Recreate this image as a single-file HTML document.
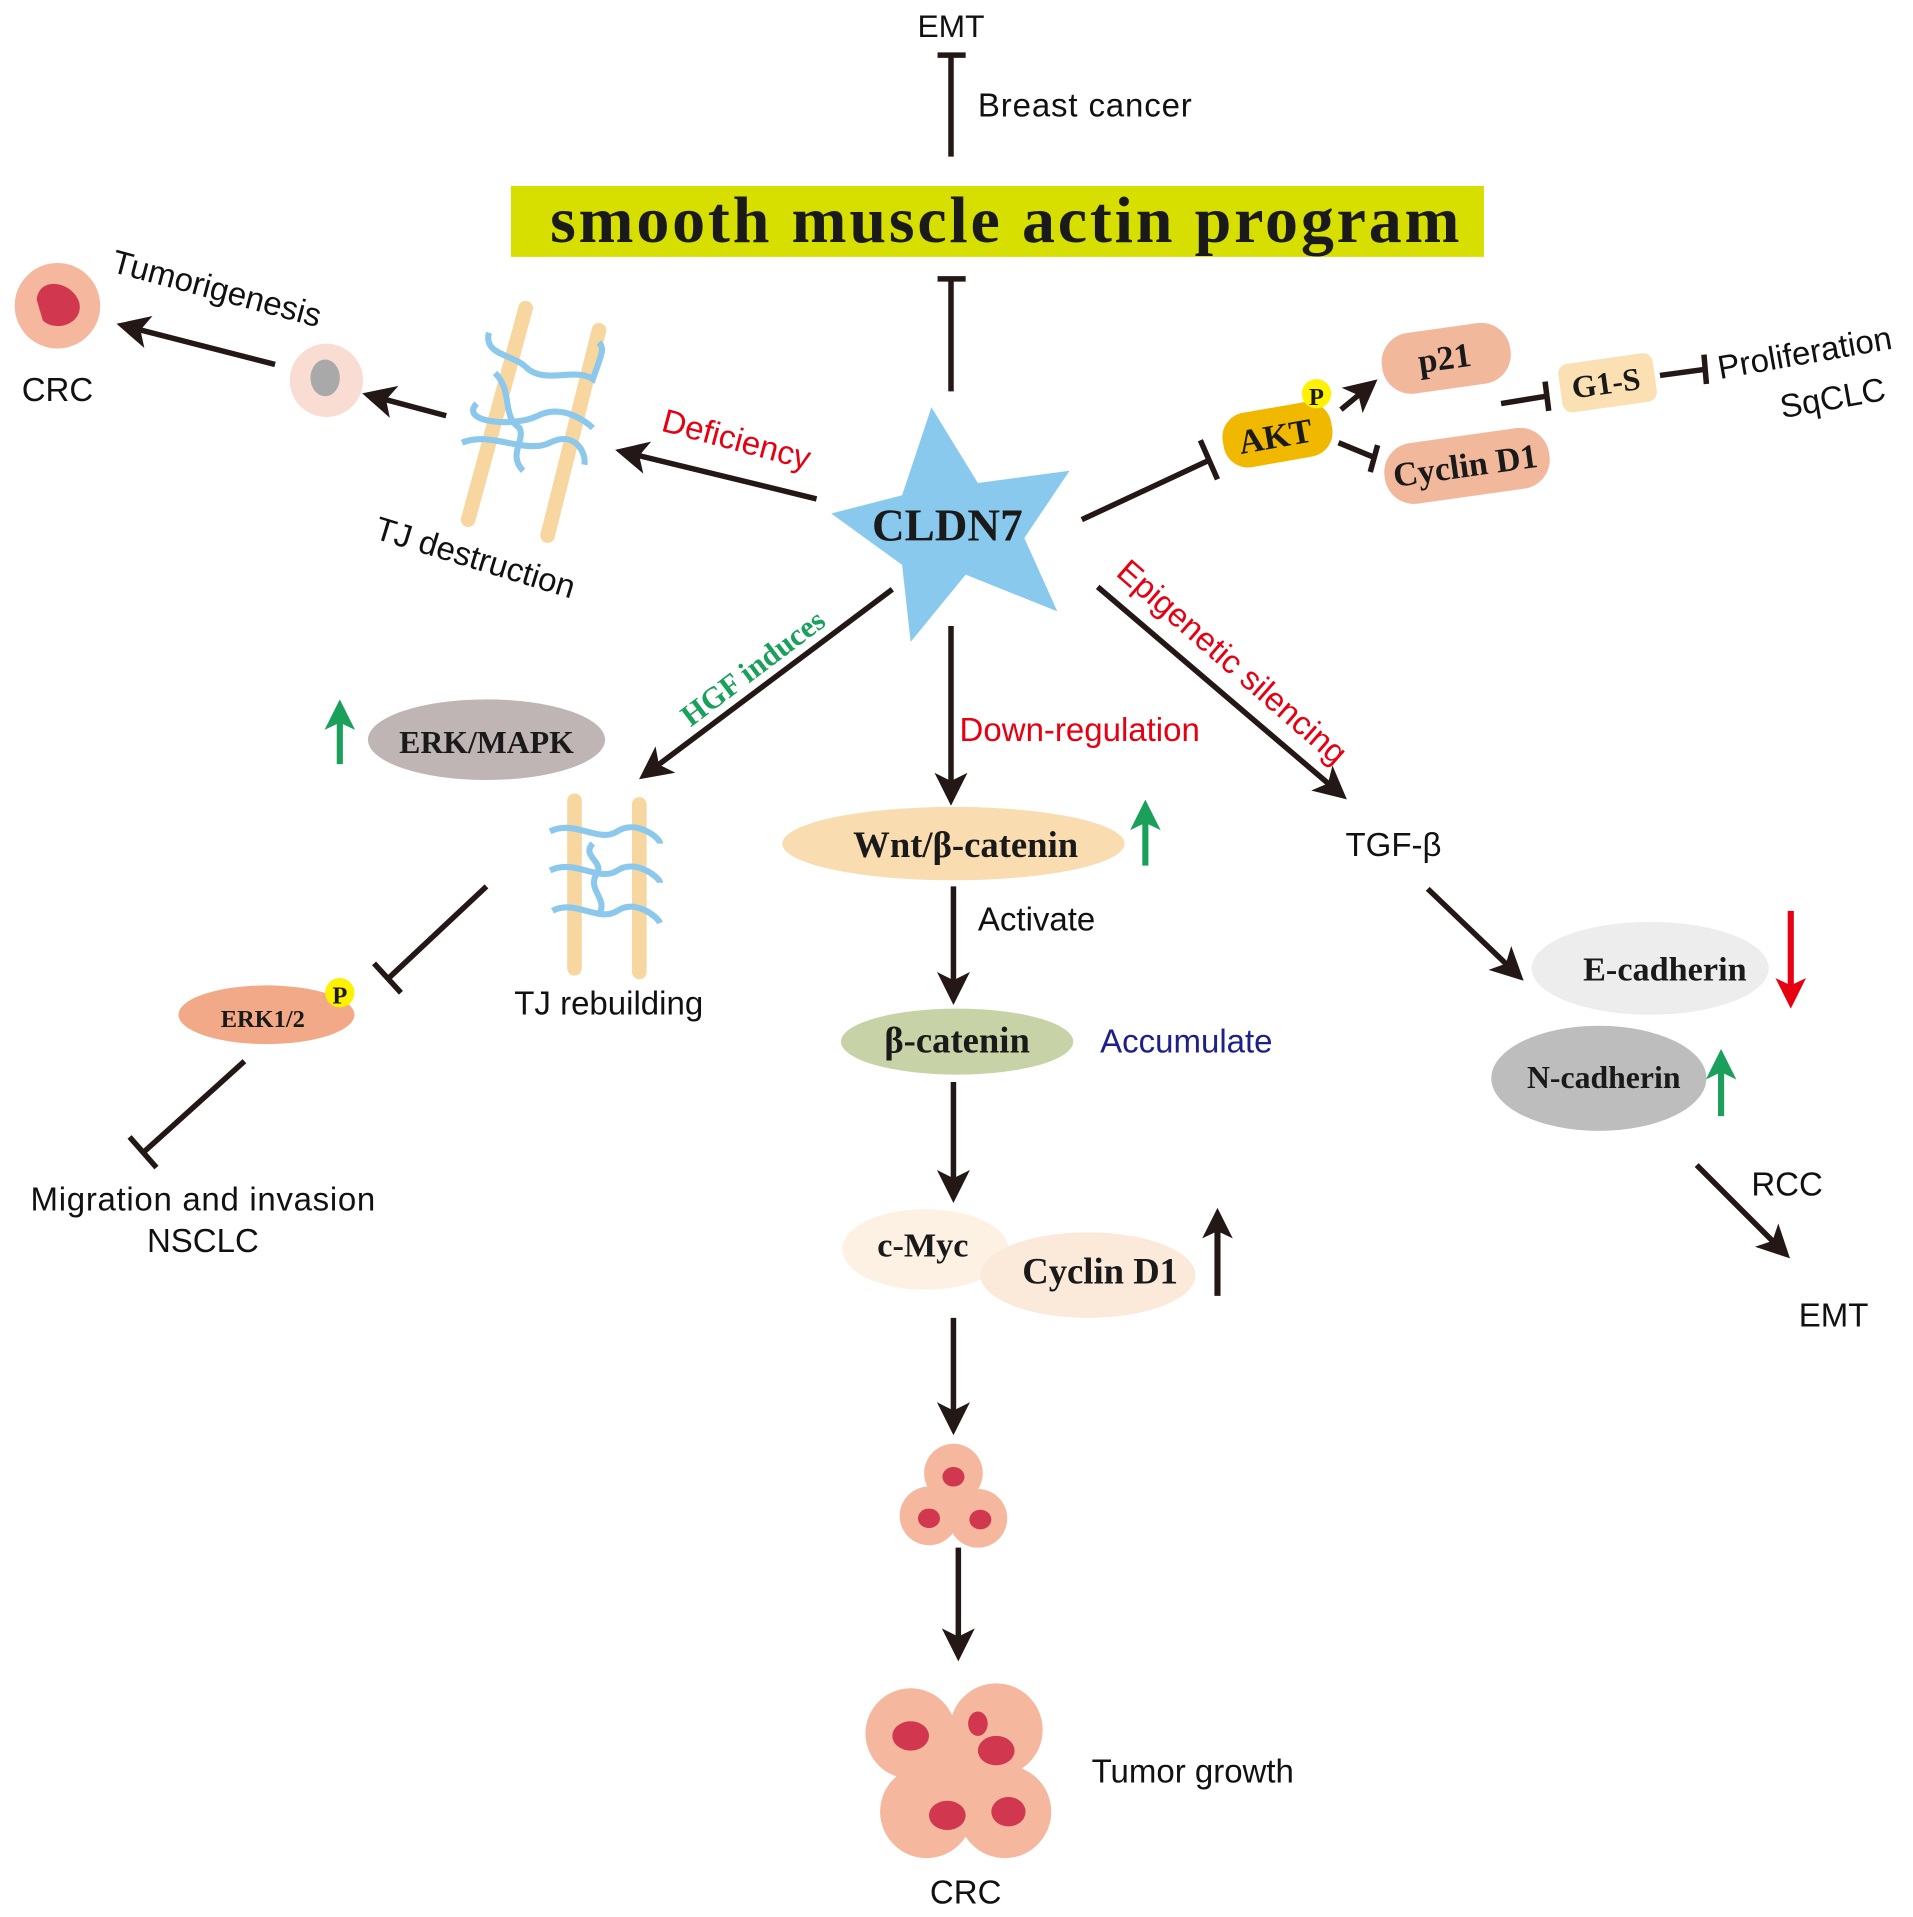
<!DOCTYPE html>
<html><head><meta charset="utf-8"><style>
html,body{margin:0;padding:0;background:#fff}
svg{display:block}
.s{font-family:"Liberation Sans",sans-serif;fill:#111}
.b{font-family:"Liberation Serif",serif;font-weight:bold;fill:#1a1a1a}
</style></head><body>
<svg width="1913" height="1917" viewBox="0 0 1565 1568" xmlns="http://www.w3.org/2000/svg">
<defs>
<marker id="a" markerWidth="6" markerHeight="6" refX="4" refY="3" orient="auto" markerUnits="strokeWidth">
<path d="M0,0 L6,3 L0,6 L1.5,3 z" fill="#231815"/></marker>
<marker id="g" markerWidth="5" markerHeight="5" refX="3" refY="2.5" orient="auto" markerUnits="strokeWidth">
<path d="M0,0 L5,2.5 L0,5 L1.2,2.5 z" fill="#1aa05a"/></marker>
<marker id="r" markerWidth="5" markerHeight="5" refX="3" refY="2.5" orient="auto" markerUnits="strokeWidth">
<path d="M0,0 L5,2.5 L0,5 L1.2,2.5 z" fill="#e60012"/></marker>
<marker id="k" markerWidth="5" markerHeight="5" refX="3" refY="2.5" orient="auto" markerUnits="strokeWidth">
<path d="M0,0 L5,2.5 L0,5 L1.2,2.5 z" fill="#231815"/></marker>
</defs>
<g stroke="#231815" stroke-width="4.5" fill="none">
<line x1="778" y1="128" x2="778" y2="45"/><line x1="767" y1="45" x2="790" y2="45"/>
<line x1="778" y1="320" x2="778" y2="228"/><line x1="767" y1="228" x2="790" y2="228"/>
<line x1="668" y1="408" x2="512" y2="370" marker-end="url(#a)"/>
<line x1="365" y1="340" x2="305" y2="324" marker-end="url(#a)"/>
<line x1="225" y1="298" x2="104" y2="267" marker-end="url(#a)"/>
<line x1="730" y1="482" x2="530" y2="632" marker-end="url(#a)"/>
<line x1="778" y1="512" x2="778" y2="650" marker-end="url(#a)"/>
<line x1="780" y1="725" x2="780" y2="813" marker-end="url(#a)"/>
<line x1="780" y1="885" x2="780" y2="975" marker-end="url(#a)"/>
<line x1="780" y1="1078" x2="780" y2="1165" marker-end="url(#a)"/>
<line x1="784" y1="1266" x2="784" y2="1350" marker-end="url(#a)"/>
<line x1="898" y1="480" x2="1095" y2="648" marker-end="url(#a)"/>
<line x1="1168" y1="727" x2="1240" y2="796" marker-end="url(#a)"/>
<line x1="1388" y1="953" x2="1458" y2="1023" marker-end="url(#a)"/>
<line x1="1097" y1="335" x2="1120" y2="316" marker-end="url(#a)"/>
<line x1="885" y1="425" x2="990" y2="376"/><line x1="982" y1="360" x2="996" y2="392"/>
<line x1="1095" y1="362" x2="1124" y2="374"/><line x1="1127" y1="364" x2="1121" y2="386"/>
<line x1="1228" y1="330" x2="1265" y2="324"/><line x1="1264" y1="312" x2="1267" y2="336"/>
<line x1="1358" y1="307" x2="1395" y2="302"/><line x1="1394" y1="290" x2="1396" y2="314"/>
<line x1="398" y1="725" x2="318" y2="800"/><line x1="306" y1="788" x2="328" y2="812"/>
<line x1="200" y1="868" x2="118" y2="942"/><line x1="106" y1="930" x2="128" y2="955"/>
</g>
<line x1="278" y1="625" x2="278" y2="582" stroke="#1aa05a" stroke-width="5" marker-end="url(#g)"/>
<line x1="937" y1="708" x2="937" y2="664" stroke="#1aa05a" stroke-width="5" marker-end="url(#g)"/>
<line x1="1408" y1="913" x2="1408" y2="868" stroke="#1aa05a" stroke-width="5" marker-end="url(#g)"/>
<line x1="1465" y1="745" x2="1465" y2="815" stroke="#e60012" stroke-width="5" marker-end="url(#r)"/>
<line x1="996" y1="1060" x2="996" y2="998" stroke="#231815" stroke-width="5" marker-end="url(#k)"/>

<text x="778" y="30" class="s" font-size="26" text-anchor="middle">EMT</text>
<text x="800" y="95" class="s" font-size="27" textLength="175">Breast cancer</text>
<rect x="418" y="152" width="796" height="58" fill="#d7df01"/>
<text x="450" y="198" class="b" font-size="54" textLength="744" lengthAdjust="spacing" fill="#1a1208">smooth muscle actin program</text>

<polygon points="762,333 800,395 875,385 838,440 865,500 790,470 745,525 738,462 680,420 738,405" fill="#89c9ee"/>
<text x="775" y="442" class="b" font-size="37" text-anchor="middle">CLDN7</text>

<text transform="translate(540,352) rotate(15)" class="s" font-size="27" style="fill:#e60012">Deficiency</text>
<g stroke="#f8d6a0" stroke-width="12" stroke-linecap="round"><line x1="430" y1="252" x2="383" y2="425"/><line x1="490" y1="270" x2="448" y2="438"/></g>
<g stroke="#8cc8ec" stroke-width="5" fill="none">
<path d="M400,272 C395,290 420,290 430,300 C445,315 470,300 485,310 C492,290 495,285 490,280"/>
<path d="M390,330 C375,345 420,350 440,340 C460,330 480,345 485,350"/>
<path d="M378,362 C400,352 430,372 450,362 C470,352 480,370 478,380"/>
<path d="M405,305 C420,320 410,340 425,350 C430,360 415,372 428,385"/>
</g>
<text transform="translate(305,440) rotate(17)" class="s" font-size="27">TJ destruction</text>
<circle cx="267" cy="311" r="30" fill="#f9dcd2"/>
<ellipse cx="266" cy="309" rx="12" ry="15" fill="#a9a9a9"/>
<text transform="translate(90,222) rotate(15)" class="s" font-size="27">Tumorigenesis</text>
<circle cx="47" cy="250" r="35" fill="#f5b89e"/>
<path d="M30,245 C32,225 60,230 65,248 C68,265 45,272 35,262 Z" fill="#d1374e"/>
<text x="47" y="328" class="s" font-size="27" text-anchor="middle">CRC</text>

<g transform="rotate(-10 1045 355)"><rect x="1000" y="333" width="90" height="45" rx="20" fill="#f1b800"/></g>
<text transform="translate(1045,366) rotate(-10)" class="b" font-size="28" text-anchor="middle">AKT</text>
<circle cx="1077" cy="322" r="12" fill="#fff200"/><text x="1077" y="331" class="b" font-size="20" text-anchor="middle">P</text>
<g transform="rotate(-8 1183 292)"><rect x="1130" y="268" width="106" height="50" rx="24" fill="#f2b89c"/></g>
<text transform="translate(1183,302) rotate(-8)" class="b" font-size="28" text-anchor="middle">p21</text>
<g transform="rotate(-8 1200 380)"><rect x="1132" y="356" width="136" height="50" rx="24" fill="#f2b89c"/></g>
<text transform="translate(1200,390) rotate(-8)" class="b" font-size="28" text-anchor="middle">Cyclin D1</text>
<g transform="rotate(-8 1315 312)"><rect x="1276" y="293" width="78" height="40" rx="8" fill="#fbe0b4"/></g>
<text transform="translate(1315,322) rotate(-8)" class="b" font-size="26" text-anchor="middle">G1-S</text>
<text transform="translate(1407,310) rotate(-10)" class="s" font-size="27">Proliferation</text>
<text transform="translate(1458,342) rotate(-10)" class="s" font-size="27">SqCLC</text>

<text transform="translate(565,595) rotate(-37)" class="b" font-size="25" style="fill:#1aa05a">HGF induces</text>
<ellipse cx="398" cy="605" rx="97" ry="33" fill="#bfb5b4"/>
<text x="398" y="616" class="b" font-size="26" text-anchor="middle">ERK/MAPK</text>
<g stroke="#f8d6a0" stroke-width="12" stroke-linecap="round"><line x1="470" y1="655" x2="470" y2="792"/><line x1="523" y1="658" x2="523" y2="795"/></g>
<g stroke="#8cc8ec" stroke-width="5" fill="none">
<path d="M450,680 C470,670 490,690 505,680 C520,670 540,685 540,690"/>
<path d="M450,712 C470,702 490,722 505,712 C520,702 540,718 540,722"/>
<path d="M452,745 C470,735 490,755 505,745 C520,735 538,750 540,755"/>
<path d="M485,690 C475,700 495,705 488,715 C480,728 498,735 490,748"/>
</g>
<text x="498" y="830" class="s" font-size="27" text-anchor="middle">TJ rebuilding</text>
<ellipse cx="218" cy="830" rx="72" ry="24" fill="#f2a987"/>
<text x="215" y="840" class="b" font-size="20" text-anchor="middle">ERK1/2</text>
<circle cx="278" cy="812" r="12" fill="#fff200"/><text x="278" y="821" class="b" font-size="20" text-anchor="middle">P</text>
<text x="166" y="990" class="s" font-size="27" text-anchor="middle" textLength="282">Migration and invasion</text>
<text x="166" y="1024" class="s" font-size="27" text-anchor="middle">NSCLC</text>

<text x="785" y="606" class="s" font-size="27" style="fill:#e60012">Down-regulation</text>
<ellipse cx="780" cy="690" rx="140" ry="30" fill="#f9dcb0"/>
<text x="790" y="701" class="b" font-size="30" text-anchor="middle">Wnt/β-catenin</text>
<text x="800" y="761" class="s" font-size="27">Activate</text>
<ellipse cx="783" cy="852" rx="95" ry="27" fill="#c7d3a6"/>
<text x="783" y="861" class="b" font-size="30" text-anchor="middle">β-catenin</text>
<text x="900" y="861" class="s" font-size="27" style="fill:#1d2088">Accumulate</text>
<ellipse cx="757" cy="1022" rx="68" ry="33" fill="#fdf1e4"/>
<ellipse cx="890" cy="1043" rx="88" ry="35" fill="#fbe9d9"/>
<text x="755" y="1028" class="b" font-size="28" text-anchor="middle">c-Myc</text>
<text x="900" y="1050" class="b" font-size="30" text-anchor="middle">Cyclin D1</text>
<g fill="#f5b89e"><circle cx="780" cy="1205" r="24"/><circle cx="760" cy="1240" r="24"/><circle cx="800" cy="1242" r="24"/></g>
<g fill="#d1374e"><ellipse cx="780" cy="1208" rx="9" ry="8"/><ellipse cx="760" cy="1242" rx="9" ry="8"/><ellipse cx="802" cy="1243" rx="9" ry="8"/></g>
<g fill="#f5b89e"><circle cx="745" cy="1418" r="37"/><circle cx="815" cy="1415" r="38"/><circle cx="758" cy="1482" r="38"/><circle cx="822" cy="1482" r="38"/><circle cx="788" cy="1450" r="35"/></g>
<g fill="#d1374e"><ellipse cx="745" cy="1420" rx="15" ry="12"/><ellipse cx="815" cy="1432" rx="15" ry="12"/><ellipse cx="775" cy="1485" rx="15" ry="12"/><ellipse cx="825" cy="1482" rx="14" ry="12"/><ellipse cx="800" cy="1410" rx="8" ry="10"/></g>
<text x="893" y="1458" class="s" font-size="27">Tumor growth</text>
<text x="790" y="1557" class="s" font-size="27" text-anchor="middle">CRC</text>

<text transform="translate(912,470) rotate(41)" class="s" font-size="27" style="fill:#e60012">Epigenetic silencing</text>
<text x="1140" y="700" class="s" font-size="27" text-anchor="middle">TGF-β</text>
<ellipse cx="1350" cy="792" rx="97" ry="38" fill="#ededed"/>
<text x="1362" y="802" class="b" font-size="28" text-anchor="middle">E-cadherin</text>
<ellipse cx="1308" cy="882" rx="88" ry="43" fill="#bdbdbd"/>
<text x="1312" y="890" class="b" font-size="26" text-anchor="middle">N-cadherin</text>
<text x="1462" y="978" class="s" font-size="27" text-anchor="middle">RCC</text>
<text x="1500" y="1085" class="s" font-size="27" text-anchor="middle">EMT</text>
</svg>
</body></html>
